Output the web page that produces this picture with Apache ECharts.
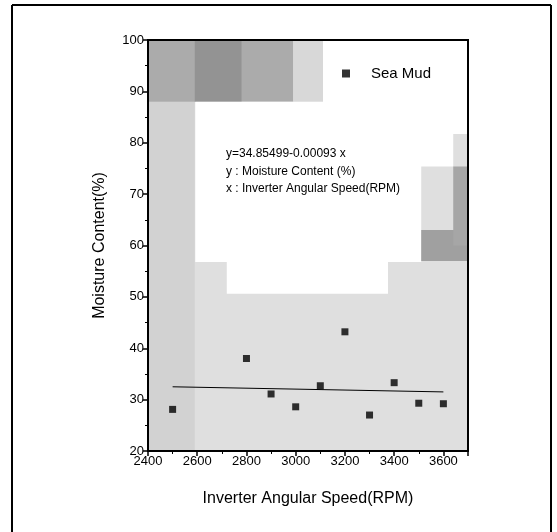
<!DOCTYPE html>
<html>
<head>
<meta charset="utf-8">
<script src="https://cdn.jsdelivr.net/npm/echarts@6/dist/echarts.min.js"></script>
<style>
html,body{margin:0;padding:0;background:#fff}
#main{width:557px;height:532px}
</style>
</head>
<body>
<div id="main"></div>
<script>
// 数据
var speed = [2500, 2800, 2900, 3000, 3100, 3200, 3300, 3400, 3500, 3600];
var moisture = [28.1, 38.0, 31.1, 28.6, 32.7, 43.2, 27.0, 33.3, 29.3, 29.2];
// 拟合直线两端 y=34.85499-0.00093x
var fitX = [2500, 3600];
var fitY = [32.5, 31.5];
var fitText = ['y=34.85499-0.00093 x', 'y : Moisture Content (%)', 'x : Inverter Angular Speed(RPM)'];

// 扫描背景的灰色块 (数据坐标)
var shades = [
    {c: '#dfdfdf', p: [[2400, 20], [3700, 20], [3700, 100], [2400, 100]]},
    {c: '#d2d2d2', p: [[2400, 20], [2590, 20], [2590, 88], [2400, 88]]},
    {c: '#ababab', p: [[2400, 88], [2990, 88], [2990, 100], [2400, 100]]},
    {c: '#939393', p: [[2590, 88], [2780, 88], [2780, 100], [2590, 100]]},
    {c: '#d8d8d8', p: [[2990, 88], [3111, 88], [3111, 100], [2990, 100]]},
    {c: '#ffffff', p: [[2592, 88], [3111, 88], [3111, 100], [3700, 100], [3700, 81.7], [3640, 81.7], [3640, 75.4],
        [3510, 75.4], [3510, 56.8], [3375, 56.8], [3375, 50.6], [2720, 50.6], [2720, 56.8], [2592, 56.8]]},
    {c: '#a0a0a0', p: [[3510, 57], [3700, 57], [3700, 63], [3510, 63]]},
    {c: '#a6a6a6', p: [[3640, 60], [3700, 60], [3700, 75.4], [3640, 75.4]]}
];

var myChart = echarts.init(document.getElementById('main'));
var font = 'Liberation Sans, Arial, sans-serif';

var pts = speed.map(function (x, i) { return [x, moisture[i]]; });
var fit = fitX.map(function (x, i) { return [x, fitY[i]]; });

option = {
    animation: false,
    backgroundColor: '#fff',
    grid: {
        left: 148, right: 89, top: 40, bottom: 81,
        show: true, backgroundColor: 'transparent',
        borderColor: '#000', borderWidth: 2
    },
    xAxis: {
        type: 'value', min: 2400, max: 3700, interval: 200,
        name: 'Inverter Angular Speed(RPM)', nameLocation: 'middle', nameGap: 40,
        nameTextStyle: {color: '#000', fontSize: 16, fontFamily: font},
        axisLine: {show: true, onZero: false, lineStyle: {color: '#000', width: 2}},
        axisTick: {show: true, inside: false, length: 5, lineStyle: {color: '#000', width: 1.5}},
        minorTick: {show: true, splitNumber: 2, length: 3, lineStyle: {color: '#000'}},
        splitLine: {show: false},
        axisLabel: {color: '#000', fontSize: 13, fontFamily: font, margin: 4,
            formatter: function (v) { return v > 3600 ? '' : v; }}
    },
    yAxis: {
        type: 'value', min: 20, max: 100, interval: 10,
        name: 'Moisture Content(%)', nameLocation: 'middle', nameGap: 40,
        nameTextStyle: {color: '#000', fontSize: 16, fontFamily: font},
        axisLine: {show: true, onZero: false, lineStyle: {color: '#000', width: 2}},
        axisTick: {show: true, inside: false, length: 5, lineStyle: {color: '#000', width: 1.5}},
        minorTick: {show: true, splitNumber: 2, length: 3, lineStyle: {color: '#000'}},
        splitLine: {show: false},
        axisLabel: {color: '#000', fontSize: 13, fontFamily: font, margin: 4}
    },
    legend: {
        show: true, data: [{name: 'Sea Mud', icon: 'rect'}],
        left: 337, top: 61, itemWidth: 8, itemHeight: 8, itemGap: 10,
        textStyle: {color: '#000', fontSize: 15, fontFamily: font, padding: [0, 0, 0, 16]}
    },
    series: [
        {
            name: 'Sea Mud', type: 'scatter', data: pts,
            symbol: 'rect', symbolSize: 7,
            itemStyle: {color: '#000'}
        },
        {
            name: 'fit', type: 'line', data: fit,
            symbol: 'none', lineStyle: {color: '#000', width: 1}
        }
    ]
};
myChart.setOption(option);

// 背景、文字、外框
var g = [];
shades.forEach(function (s) {
    g.push({
        type: 'polygon', z: -10, silent: true,
        shape: {points: s.p.map(function (d) { return myChart.convertToPixel({gridIndex: 0}, d); })},
        style: {fill: s.c}
    });
});
fitText.forEach(function (t, i) {
    g.push({
        type: 'text', left: 226, top: 148 + i * 17.5, z: 10,
        style: {text: t, fill: '#000', fontSize: 12, fontFamily: font}
    });
});
g.push({type: 'line', shape: {x1: 12, y1: 5, x2: 12, y2: 532}, style: {stroke: '#000', lineWidth: 2}});
g.push({type: 'line', shape: {x1: 12, y1: 5, x2: 551, y2: 5}, style: {stroke: '#000', lineWidth: 2}});
g.push({type: 'line', shape: {x1: 551, y1: 5, x2: 551, y2: 532}, style: {stroke: '#000', lineWidth: 2}});
myChart.setOption({graphic: g});
</script>
</body>
</html>
